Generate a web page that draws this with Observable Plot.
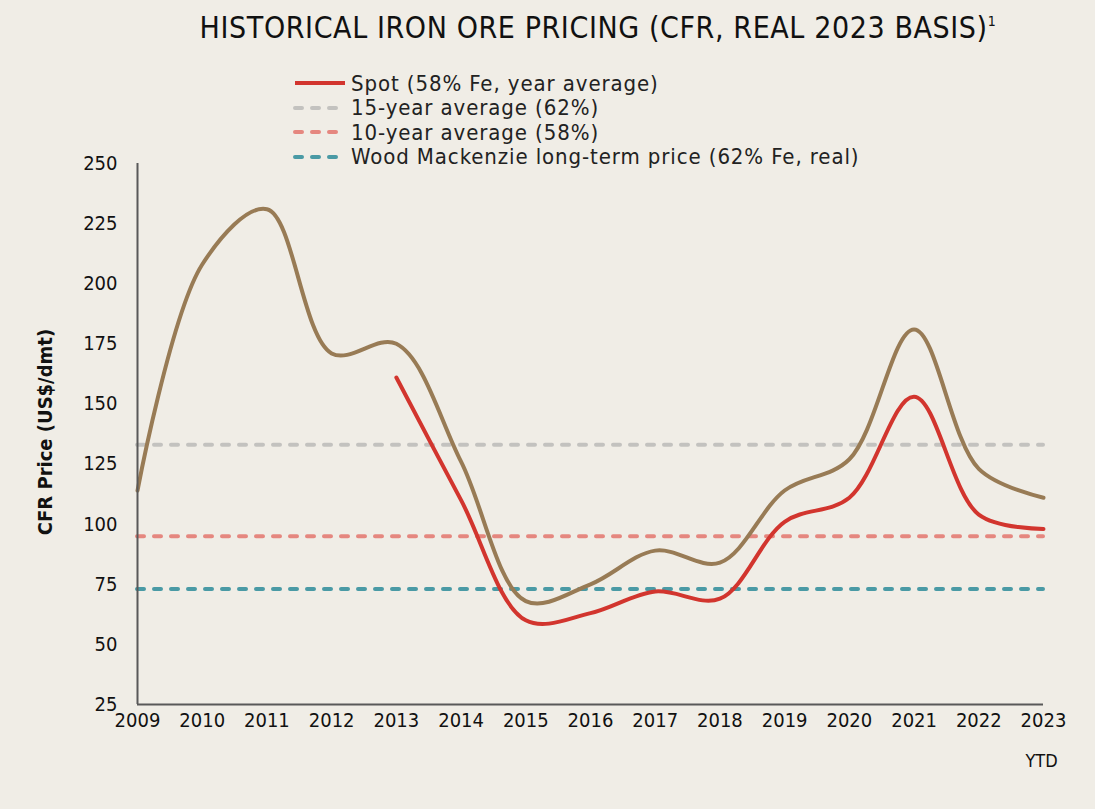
<!DOCTYPE html>
<html><head><meta charset="utf-8">
<script src="https://cdn.jsdelivr.net/npm/d3@7"></script>
<script src="https://cdn.jsdelivr.net/npm/@observablehq/plot@0.6"></script>
<style>
body{margin:0;background:#f0ede6;font-family:"Liberation Sans Narrow","DejaVu Sans Condensed",sans-serif;}
#wrap{position:relative;width:1095px;height:809px;background:#f0ede6;}
#title{position:absolute;left:0;width:1196px;top:10px;text-align:center;font-size:30px;letter-spacing:0.6px;color:#111;font-weight:300;}
#title sup{font-size:14px;vertical-align:top;position:relative;top:3px;}
#legend{position:absolute;left:292px;top:71px;font-size:22px;letter-spacing:0.9px;color:#222;}
.row{height:24.5px;display:flex;align-items:center;}
.row svg{margin-right:3px;}
#chart{position:absolute;left:0;top:0;}
</style></head>
<body><div id="wrap"><div id="chart"></div><div id="title">HISTORICAL IRON ORE PRICING (CFR, REAL 2023 BASIS)<sup>1</sup></div><div id="legend"></div></div>
<script>
const years = [2009,2010,2011,2012,2013,2014,2015,2016,2017,2018,2019,2020,2021,2022,2023];
const price62 = [114,208,231,171,175,126,68,75,89,84,114,127,181,123,111];
const spotYears = [2013,2014,2015,2016,2017,2018,2019,2020,2021,2022,2023];
const spot58 = [161,110,60,63,72,69,101,111,153,104,98];
const avg15 = 133;
const avg10 = 95;
const woodMac = 73;
const yTicks = [25,50,75,100,125,150,175,200,225,250];

const legendItems = [
  {label:"Spot (58% Fe, year average)", color:"#d2352e", dash:null},
  {label:"15-year average (62%)", color:"#c3c2bf", dash:"7,10"},
  {label:"10-year average (58%)", color:"#e5877f", dash:"7,10"},
  {label:"Wood Mackenzie long-term price (62% Fe, real)", color:"#4a9aa5", dash:"7,10"}
];

const brown = years.map((y,i)=>({year:y, v:price62[i]}));
const spot = spotYears.map((y,i)=>({year:y, v:spot58[i]}));
const dashed = {strokeWidth:4, strokeDasharray:"7,10", strokeLinecap:"round"};

const chart = Plot.plot({
  width:1095, height:809,
  marginLeft:137, marginRight:52, marginTop:163, marginBottom:105,
  style:{background:"transparent", fontFamily:'"Liberation Sans Narrow","DejaVu Sans Condensed",sans-serif', fontSize:"20px", color:"#111"},
  x:{domain:[2009,2023], ticks:years, tickFormat:d=>String(d), tickSize:0, tickPadding:8, label:null},
  y:{domain:[25,250], ticks:yTicks, tickSize:0, tickPadding:20, label:null},
  marks:[
    Plot.ruleY([avg15], {stroke:"#c3c2bf", ...dashed}),
    Plot.ruleY([avg10], {stroke:"#e5877f", ...dashed}),
    Plot.ruleY([woodMac], {stroke:"#4a9aa5", ...dashed}),
    Plot.line(brown, {x:"year", y:"v", stroke:"#987b55", strokeWidth:4, curve:"catmull-rom"}),
    Plot.line(spot, {x:"year", y:"v", stroke:"#d2352e", strokeWidth:4, curve:"catmull-rom"}),
    Plot.ruleX([2009], {stroke:"#595959", strokeWidth:2}),
    Plot.ruleY([25], {stroke:"#595959", strokeWidth:2}),
    Plot.axisX({ticks:years, tickFormat:d=>String(d), tickSize:0, tickPadding:8, fontSize:20}),
    Plot.text(["YTD"], {x:2023, y:25, dy:57, dx:-2, fontSize:18, fill:"#111"}),
    Plot.axisY({ticks:yTicks, tickSize:0, tickPadding:20, fontSize:20}),
    Plot.text(["CFR Price (US$/dmt)"], {frameAnchor:"left", textAnchor:"middle", dx:-92, dy:-2, rotate:-90, fontSize:20, fontWeight:"bold", fill:"#111"})
  ]
});
document.getElementById("chart").appendChild(chart);

const leg = document.getElementById("legend");
for (const it of legendItems) {
  const row = document.createElement("div"); row.className="row";
  row.innerHTML = `<svg width="56" height="10"><line x1="3" y1="5" x2="53" y2="5" stroke="${it.color}" stroke-width="4" stroke-linecap="${it.dash?'round':'butt'}" ${it.dash?`stroke-dasharray="${it.dash}"`:''}/></svg><span>${it.label}</span>`;
  leg.appendChild(row);
}
</script></body></html>
